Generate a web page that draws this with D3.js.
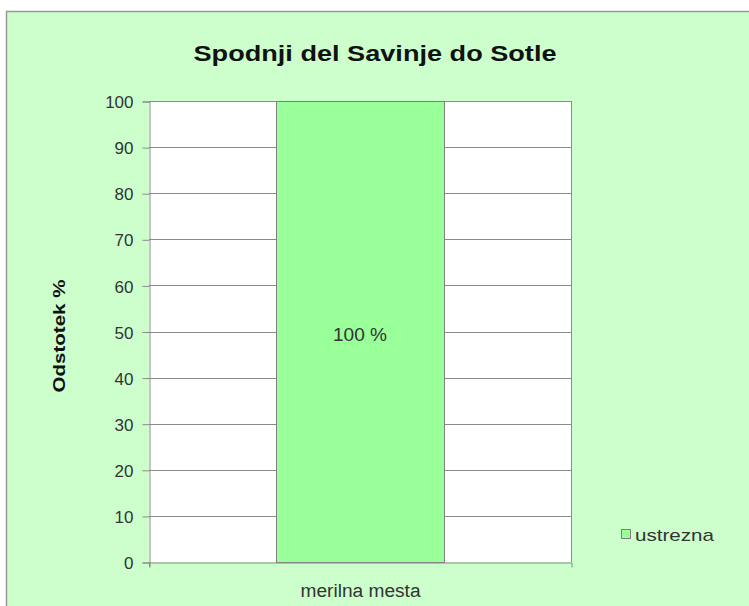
<!DOCTYPE html>
<html><head><meta charset="utf-8">
<script src="https://cdn.jsdelivr.net/npm/d3@7"></script>
<style>body{margin:0;background:#fff;} svg{display:block;}</style>
</head><body>
<svg id="chart" width="749" height="606"></svg>
<script>
const title = "Spodnji del Savinje do Sotle";
const categories = ["merilna mesta"];
const seriesName = "ustrezna";
const values = [100];
const valueLabels = ["100 %"];
const yTicks = [0,10,20,30,40,50,60,70,80,90,100];
const yTitle = "Odstotek %";

const svg = d3.select("#chart");
const font = "Arial, 'Liberation Sans', sans-serif";
svg.append("rect").attr("x",6.5).attr("y",11.5).attr("width",760).attr("height",620)
  .attr("fill","#CCFFCC").attr("stroke","#999").attr("stroke-width",1.5);

const plot = {left:149, top:101, right:571, bottom:562};
const x = d3.scaleBand().domain(categories).range([plot.left, plot.right]).paddingInner(0).paddingOuter(0.6);
const y = d3.scaleLinear().domain([0,100]).range([plot.bottom, plot.top]);

svg.append("rect").attr("x",plot.left).attr("y",plot.top).attr("width",plot.right-plot.left).attr("height",plot.bottom-plot.top)
  .attr("fill","#fff");

// gridlines
svg.append("g").selectAll("line").data(yTicks.filter(d=>d>0)).join("line")
  .attr("x1",plot.left).attr("x2",plot.right).attr("y1",d=>Math.round(y(d))+0.5).attr("y2",d=>Math.round(y(d))+0.5)
  .attr("stroke","#8a8a8a").attr("stroke-width",1);
svg.append("line").attr("x1",plot.right+0.5).attr("x2",plot.right+0.5).attr("y1",plot.top).attr("y2",plot.bottom)
  .attr("stroke","#8a8a8a");

// bars
const bw = 168;
svg.append("g").selectAll("rect").data(values).join("rect")
  .attr("x",(d,i)=>x(categories[i])+x.bandwidth()/2-bw/2+0.5)
  .attr("y",d=>y(d)+0.5).attr("width",bw).attr("height",d=>y(0)-y(d))
  .attr("fill","#99FF99").attr("stroke","#808080").attr("stroke-width",1);

// value labels
svg.append("g").selectAll("text").data(values).join("text")
  .attr("x",(d,i)=>x(categories[i])+x.bandwidth()/2).attr("y",d=>(y(d)+y(0))/2+9)
  .attr("text-anchor","middle").attr("font-family",font).attr("font-size",18).attr("fill","#333")
  .attr("textLength",54).attr("lengthAdjust","spacingAndGlyphs")
  .text((d,i)=>valueLabels[i]);

// y axis
const yAxis = d3.axisLeft(y).tickValues(yTicks).tickSize(7).tickPadding(9);
const ga = svg.append("g").attr("transform",`translate(${plot.left+0.5},0.5)`).call(yAxis);
ga.select(".domain").attr("stroke","#8a8a8a");
ga.selectAll(".tick line").attr("stroke","#8a8a8a");
ga.selectAll(".tick text").attr("font-family",font).attr("font-size",17).attr("fill","#333").attr("dy","0.36em");

// x axis
const xAxis = d3.axisBottom(x).tickSize(5).tickPadding(10);
const gx = svg.append("g").attr("transform",`translate(0.5,${plot.bottom+0.5})`).call(xAxis);
gx.select(".domain").attr("stroke","#8a8a8a");
gx.selectAll(".tick line").remove();
gx.selectAll(".tick text").attr("font-family",font).attr("font-size",18).attr("fill","#333")
  .attr("dy",null).attr("y",34).attr("textLength",120).attr("lengthAdjust","spacingAndGlyphs");
svg.append("line").attr("x1",plot.left+0.5).attr("x2",plot.left+0.5).attr("y1",plot.bottom).attr("y2",plot.bottom+5).attr("stroke","#8a8a8a");

// title
svg.append("text").attr("x",375).attr("y",61).attr("text-anchor","middle")
  .attr("font-family",font).attr("font-weight","bold").attr("font-size",22).attr("fill","#111")
  .attr("textLength",363).attr("lengthAdjust","spacingAndGlyphs").text(title);

// y title
svg.append("text").attr("transform","translate(65,336) rotate(-90)").attr("text-anchor","middle")
  .attr("font-family",font).attr("font-weight","bold").attr("font-size",17).attr("fill","#111")
  .attr("textLength",113).attr("lengthAdjust","spacingAndGlyphs").text(yTitle);

// legend
svg.append("rect").attr("x",621.5).attr("y",529.5).attr("width",9).attr("height",9)
  .attr("fill","#99FF99").attr("stroke","#808080");
svg.append("text").attr("x",635).attr("y",541).attr("font-family",font).attr("font-size",17).attr("fill","#333")
  .attr("textLength",79).attr("lengthAdjust","spacingAndGlyphs").text(seriesName);
</script>
</body></html>
